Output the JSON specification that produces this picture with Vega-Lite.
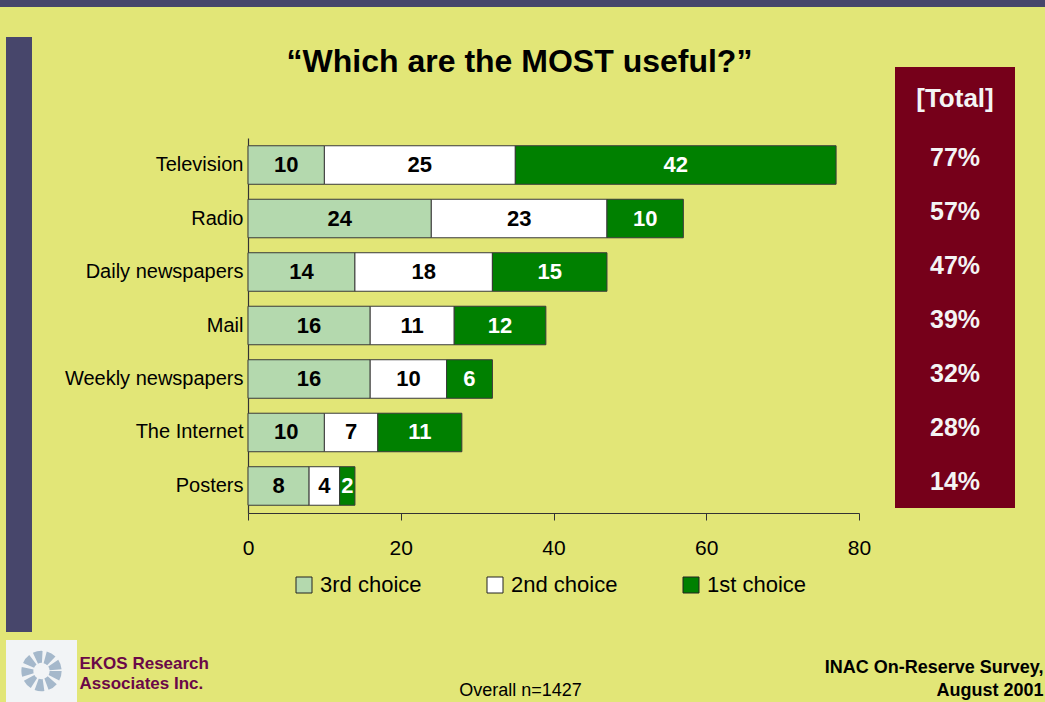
{
  "$schema": "https://vega.github.io/schema/vega-lite/v6.json",
  "background": "#e2e677",
  "padding": 0,
  "autosize": {"type": "pad"},
  "config": {"view": {"stroke": null}, "axis": {"grid": false}},
  "datasets": {
    "bars": [
      {"medium": "Television", "choice": "3rd choice", "rank": 1, "value": 10},
      {"medium": "Television", "choice": "2nd choice", "rank": 2, "value": 25},
      {"medium": "Television", "choice": "1st choice", "rank": 3, "value": 42},
      {"medium": "Radio", "choice": "3rd choice", "rank": 1, "value": 24},
      {"medium": "Radio", "choice": "2nd choice", "rank": 2, "value": 23},
      {"medium": "Radio", "choice": "1st choice", "rank": 3, "value": 10},
      {"medium": "Daily newspapers", "choice": "3rd choice", "rank": 1, "value": 14},
      {"medium": "Daily newspapers", "choice": "2nd choice", "rank": 2, "value": 18},
      {"medium": "Daily newspapers", "choice": "1st choice", "rank": 3, "value": 15},
      {"medium": "Mail", "choice": "3rd choice", "rank": 1, "value": 16},
      {"medium": "Mail", "choice": "2nd choice", "rank": 2, "value": 11},
      {"medium": "Mail", "choice": "1st choice", "rank": 3, "value": 12},
      {"medium": "Weekly newspapers", "choice": "3rd choice", "rank": 1, "value": 16},
      {"medium": "Weekly newspapers", "choice": "2nd choice", "rank": 2, "value": 10},
      {"medium": "Weekly newspapers", "choice": "1st choice", "rank": 3, "value": 6},
      {"medium": "The Internet", "choice": "3rd choice", "rank": 1, "value": 10},
      {"medium": "The Internet", "choice": "2nd choice", "rank": 2, "value": 7},
      {"medium": "The Internet", "choice": "1st choice", "rank": 3, "value": 11},
      {"medium": "Posters", "choice": "3rd choice", "rank": 1, "value": 8},
      {"medium": "Posters", "choice": "2nd choice", "rank": 2, "value": 4},
      {"medium": "Posters", "choice": "1st choice", "rank": 3, "value": 2}
    ],
    "totals": [
      {"medium": "Television", "total": 0.77},
      {"medium": "Radio", "total": 0.57},
      {"medium": "Daily newspapers", "total": 0.47},
      {"medium": "Mail", "total": 0.39},
      {"medium": "Weekly newspapers", "total": 0.32},
      {"medium": "The Internet", "total": 0.28},
      {"medium": "Posters", "total": 0.14}
    ]
  },
  "spacing": 30,
  "bounds": "flush",
  "resolve": {"scale": {"color": "independent"}, "legend": {"color": "independent"}},
  "vconcat": [
    {
      "width": 1045, "height": 7,
      "view": {"fill": "#47466b", "stroke": null},
      "data": {"values": [{}]},
      "mark": {"type": "point", "opacity": 0, "size": 0},
      "encoding": {}
    },
    {
      "spacing": 5,
      "bounds": "flush",
      "resolve": {"scale": {"color": "independent"}, "legend": {"color": "independent"}},
      "hconcat": [
        {
          "width": 1, "height": 1,
          "data": {"values": [{}]},
          "mark": {"type": "point", "opacity": 0, "size": 0},
          "encoding": {}
        },
        {
          "spacing": 8,
          "bounds": "flush",
          "vconcat": [
            {
              "width": 26, "height": 595,
              "view": {"fill": "#47466b", "stroke": null},
              "data": {"values": [{}]},
              "mark": {"type": "point", "opacity": 0, "size": 0},
              "encoding": {}
            },
            {
              "width": 71, "height": 62,
              "view": {"fill": "#f2f4f6", "stroke": null},
              "data": {"values": [{}]},
              "mark": {"type": "point", "shape": "circle", "size": 800, "filled": false, "stroke": "#9db2c7", "strokeWidth": 12, "strokeDash": [7, 3], "opacity": 0.9},
              "encoding": {}
            }
          ]
        },
        {
          "width": 232, "height": 1,
          "data": {"values": [{}]},
          "mark": {"type": "point", "opacity": 0, "size": 0},
          "encoding": {}
        },
        {
          "spacing": 100,
          "bounds": "flush",
          "resolve": {"scale": {"color": "independent"}, "legend": {"color": "independent"}},
          "vconcat": [
            {
              "width": 1, "height": 1,
              "data": {"values": [{}]},
              "mark": {"type": "point", "opacity": 0, "size": 0},
              "encoding": {}
            },
            {
              "width": 611, "height": 375,
              "data": {"name": "bars"},
              "title": {
                "text": "“Which are the MOST useful?”",
                "font": "Liberation Sans, Arial, sans-serif",
                "fontSize": 32, "fontWeight": "bold", "color": "#000000",
                "anchor": "middle", "frame": "group", "dx": -34, "offset": 34,
                "baseline": "alphabetic"
              },
              "layer": [
                {
                  "mark": {"type": "bar", "stroke": "#3a3a3a", "strokeWidth": 1},
                  "encoding": {
                    "y": {
                      "field": "medium", "type": "nominal",
                      "sort": ["Television", "Radio", "Daily newspapers", "Mail", "Weekly newspapers", "The Internet", "Posters"],
                      "scale": {"paddingInner": 0.28, "paddingOuter": 0.145},
                      "axis": {
                        "ticks": false, "domainColor": "#333333", "domainWidth": 1.2,
                        "labelFont": "Liberation Sans, Arial, sans-serif",
                        "labelFontSize": 20, "labelColor": "#000000", "labelPadding": 5, "labelLimit": 300,
                        "title": ["EKOS Research", "Associates Inc."],
                        "titleAngle": 0, "titleAlign": "left", "titleBaseline": "alphabetic",
                        "titleX": -169, "titleY": 530, "titleLineHeight": 20,
                        "titleFont": "Liberation Sans, Arial, sans-serif", "titleFontSize": 17,
                        "titleFontWeight": "bold", "titleColor": "#6a0848"
                      }
                    },
                    "x": {
                      "field": "value", "type": "quantitative", "stack": "zero",
                      "scale": {"domain": [0, 80], "nice": false},
                      "axis": {
                        "values": [0, 20, 40, 60, 80], "grid": false,
                        "tickSize": 7, "tickColor": "#333333", "domainColor": "#333333", "domainWidth": 1.2,
                        "labelFont": "Liberation Sans, Arial, sans-serif", "labelFontSize": 21,
                        "labelColor": "#000000", "labelPadding": 17, "labelFlush": false,
                        "title": "Overall n=1427",
                        "titleX": 272, "titleY": 182, "titleAlign": "center", "titleBaseline": "alphabetic",
                        "titleFont": "Liberation Sans, Arial, sans-serif",
                        "titleFontSize": 18, "titleFontWeight": "normal", "titleColor": "#000000"
                      }
                    },
                    "color": {
                      "field": "choice", "type": "nominal",
                      "scale": {"domain": ["3rd choice", "2nd choice", "1st choice"], "range": ["#b4d9ae", "#ffffff", "#008000"]},
                      "legend": {
                        "orient": "none", "legendX": 45, "legendY": 436, "direction": "horizontal",
                        "title": null, "symbolType": "square", "symbolSize": 256,
                        "symbolStrokeColor": "#222222", "symbolStrokeWidth": 1,
                        "labelFont": "Liberation Sans, Arial, sans-serif", "labelFontSize": 22,
                        "labelColor": "#000000", "labelOffset": 5, "columnPadding": 62,
                        "padding": 0, "rowPadding": 0
                      }
                    },
                    "order": {"field": "rank", "type": "quantitative"}
                  }
                },
                {
                  "mark": {"type": "text", "font": "Liberation Sans, Arial, sans-serif", "fontSize": 22, "fontWeight": "bold", "baseline": "middle"},
                  "encoding": {
                    "y": {
                      "field": "medium", "type": "nominal",
                      "sort": ["Television", "Radio", "Daily newspapers", "Mail", "Weekly newspapers", "The Internet", "Posters"]
                    },
                    "x": {"field": "value", "type": "quantitative", "stack": "zero", "bandPosition": 0.5},
                    "detail": {"field": "choice"},
                    "order": {"field": "rank", "type": "quantitative"},
                    "text": {"field": "value", "type": "quantitative"},
                    "color": {"condition": {"test": "datum.choice === '1st choice'", "value": "#ffffff"}, "value": "#000000"}
                  }
                }
              ]
            }
          ]
        },
        {
          "width": 637, "height": 1,
          "data": {"values": [{}]},
          "mark": {"type": "point", "opacity": 0, "size": 0},
          "encoding": {}
        },
        {
          "spacing": 29,
          "bounds": "flush",
          "vconcat": [
            {
              "width": 1, "height": 1,
              "data": {"values": [{}]},
              "mark": {"type": "point", "opacity": 0, "size": 0},
              "encoding": {}
            },
            {
              "width": 120, "height": 441,
              "view": {"fill": "#76001a", "stroke": null},
              "data": {"name": "totals"},
              "title": {
                "text": "[Total]",
                "font": "Liberation Sans, Arial, sans-serif", "fontSize": 26, "fontWeight": "bold",
                "color": "#f4f4f4", "anchor": "middle", "frame": "group", "offset": -66,
                "baseline": "alphabetic"
              },
              "mark": {"type": "text", "font": "Liberation Sans, Arial, sans-serif", "fontSize": 25, "fontWeight": "bold", "color": "#f4f4f4", "baseline": "middle", "dy": 1},
              "encoding": {
                "y": {
                  "field": "medium", "type": "nominal",
                  "sort": ["Television", "Radio", "Daily newspapers", "Mail", "Weekly newspapers", "The Internet", "Posters"],
                  "scale": {"type": "band", "paddingInner": 0, "paddingOuter": 0.583, "align": 1},
                  "axis": {
                    "orient": "right", "domain": false, "ticks": false, "labels": false, "grid": false,
                    "title": ["INAC On-Reserve Survey,", "August 2001"],
                    "titleAngle": 0, "titleAlign": "right", "titleBaseline": "alphabetic",
                    "titleX": 28, "titleY": 605, "titleLineHeight": 23,
                    "titleFont": "Liberation Sans, Arial, sans-serif",
                    "titleFontSize": 18, "titleFontWeight": "bold", "titleColor": "#000000"
                  }
                },
                "text": {"field": "total", "type": "quantitative", "format": ".0%"}
              }
            }
          ]
        }
      ]
    }
  ]
}
